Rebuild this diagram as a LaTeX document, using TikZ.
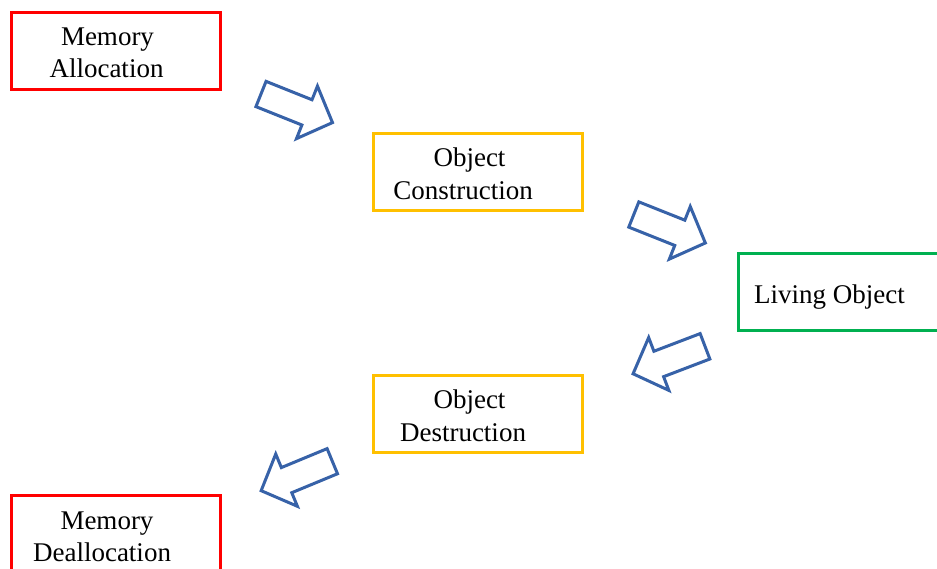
\documentclass[tikz,border=0pt]{standalone}
\usepackage{fontspec}
\setmainfont{Liberation Serif}
\definecolor{boxred}{RGB}{255,0,0}
\definecolor{boxorange}{RGB}{255,192,0}
\definecolor{boxgreen}{RGB}{0,176,80}
\definecolor{arrowblue}{RGB}{55,98,168}
\begin{document}
\begin{tikzpicture}[x=1pt,y=1pt,
  box/.style={draw,line width=3pt,minimum width=209pt,minimum height=77pt,inner sep=0pt},
  redbox/.style={box,draw=boxred},
  orangebox/.style={box,draw=boxorange},
  greenbox/.style={box,draw=boxgreen},
  lbl/.style={anchor=base,inner sep=0pt,font=\fontsize{27}{33}\selectfont},
  arrowline/.style={draw=arrowblue,line width=3pt,line join=miter},
  blockarrow/.pic={\draw[arrowline] (0,13.6) -- (49.5,13.6) -- (49.5,28.3) -- (77,0) -- (49.5,-28.3) -- (49.5,-13.6) -- (0,-13.6) -- cycle;}
]
\useasboundingbox (0,0) rectangle (937,-568);
\clip (0,0) rectangle (937,-568);
\fill[white] (0,0) rectangle (937,-568);

% boxes
\node[redbox] (alloc) at (115.5,-51) {};
\node[orangebox] (construct) at (477.5,-171.5) {};
\node[greenbox] (living) at (842.5,-292) {};
\node[orangebox] (destruct) at (477.5,-413.5) {};
\node[redbox] (dealloc) at (115.5,-534) {};

% texts
\node[lbl] (allocA) at (107.5,-45) {Memory};
\node[lbl] (allocB) at (106.5,-77.7) {Allocation};
\node[lbl] (constructA) at (469.5,-166) {Object};
\node[lbl] (constructB) at (463,-199.3) {Construction};
\node[lbl] (livingA) at (829.5,-303.3) {Living Object};
\node[lbl] (destructA) at (469.5,-408) {Object};
\node[lbl] (destructB) at (463,-441.3) {Destruction};
\node[lbl] (deallocA) at (107,-529.3) {Memory};
\node[lbl] (deallocB) at (102,-561.7) {Deallocation};

% block arrows
\pic[rotate=-21.8] (arrA) at (261,-94) {blockarrow};
\pic[rotate=-21.7] (arrB) at (633.8,-214.5) {blockarrow};
\pic[rotate=200.9] (arrC) at (705,-346.3) {blockarrow};
\pic[rotate=202.5] (arrD) at (332.3,-461.2) {blockarrow};
\end{tikzpicture}
\end{document}
